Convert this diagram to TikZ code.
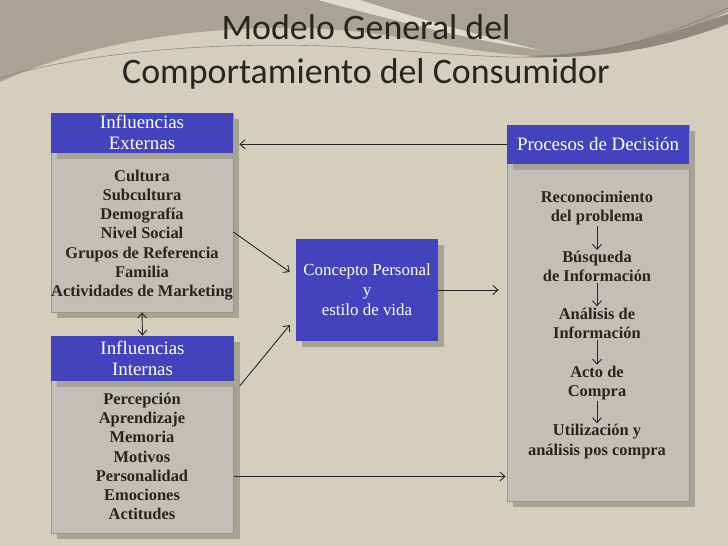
\documentclass[tikz,border=0pt]{standalone}
\usepackage{fontspec}
\setmainfont{Liberation Serif}
\newfontfamily\titulofont{Carlito}
\usetikzlibrary{shadows,arrows.meta}

\definecolor{fondo}{RGB}{212,207,188}
\definecolor{fondoosc}{RGB}{169,163,147}
\definecolor{franja}{RGB}{222,218,204}
\definecolor{azul}{RGB}{67,67,190}
\definecolor{cuerpo}{RGB}{194,191,184}
\definecolor{borde}{RGB}{160,150,115}
\definecolor{sombra}{RGB}{166,162,148}
\definecolor{texto}{RGB}{40,36,30}

\tikzset{
  sombreado/.style={drop shadow={shadow xshift=6bp, shadow yshift=-6bp, fill=sombra, opacity=1}},
  caja/.style={rectangle, draw=borde, fill=cuerpo, line width=0.8bp, minimum width=182bp, sombreado},
  cabecera/.style={rectangle, fill=azul, text=white, minimum width=182bp, align=center, inner sep=0pt,
    font=\fontsize{19}{21}\selectfont, sombreado},
  lista/.style={align=center, inner sep=1bp, text=texto, font=\bfseries\fontsize{16.5}{19.3}\selectfont},
  flecha/.style={-{Straight Barb[length=5bp,width=9bp]}, draw=black!85, line width=0.9bp},
}

\begin{document}
\begin{tikzpicture}[x=1bp,y=-1bp]
        \useasboundingbox (0,0) rectangle (728,546);

        \fill[fondo] (0,0) rectangle (728,546);
        \fill[fondoosc] (0,0) -- (728,0) -- (728,12) .. controls (680,35) and (610,58) .. (540,56)
          .. controls (460,54) and (400,30) .. (300,28) .. controls (190,26) and (80,45) .. (0,82) -- cycle;
        \fill[franja] (318,0) .. controls (400,22) and (470,40) .. (540,50)
          .. controls (480,36) and (410,16) .. (360,0) -- cycle;
        \fill[fondoosc!85!black] (520,56) .. controls (610,56) and (680,30) .. (728,14) -- (728,24)
          .. controls (680,42) and (610,62) .. (520,56) -- cycle;
        \draw[fondoosc!70!black, line width=0.4bp] (0,78) .. controls (100,48) and (250,40) .. (364,48)
          .. controls (450,54) and (520,60) .. (560,56) .. controls (640,48) and (700,20) .. (728,8);

        \node[font=\titulofont\fontsize{36}{44}\selectfont, text=texto, align=center] (titulo) at (366,52)
          {Modelo General del\\Comportamiento del Consumidor};

        \begin{scope}[every node/.style={caja}]
          \node (ext) at (142,212.5) [minimum height=199bp] {};
          \node (int) at (142.5,434.5) [minimum height=197bp] {};
          \node (dec) at (598,313) [minimum height=376bp] {};
        \end{scope}

        \node[cabecera, minimum height=40bp, anchor=north] (exthead) at (ext.north) {Influencias\\Externas};
        \node[cabecera, minimum height=45bp, anchor=north] (inthead) at (int.north) {Influencias\\Internas};
        \node[cabecera, minimum height=39bp, anchor=north] (dechead) at (dec.north) {Procesos de Decisión};
        \node[cabecera, minimum width=142bp, minimum height=102bp, font=\fontsize{17}{20}\selectfont]
          (conc) at (367,290) {Concepto Personal\\y\\estilo de vida};

        \begin{scope}[every node/.style={lista}]
          \node (extlista) at (142,235) {Cultura\\Subcultura\\Demografía\\Nivel Social\\Grupos de Referencia\\Familia\\Actividades de Marketing};
          \node (intlista) at (142,456.5) {Percepción\\Aprendizaje\\Memoria\\Motivos\\Personalidad\\Emociones\\Actitudes};
          \node (paso1) at (597,208) {Reconocimiento\\del problema};
          \node (paso2) at (597,266.5) {Búsqueda\\de Información};
          \node (paso3) at (597,323) {Análisis de\\Información};
          \node (paso4) at (597,383) {Acto de\\Compra};
          \node (paso5) at (597,441.5) {Utilización y\\análisis pos compra};
        \end{scope}

        \begin{scope}[every edge/.style={draw, flecha}]
          \path (paso1) edge (paso2);
          \path (paso2) edge (paso3);
          \path (paso3) edge (paso4);
          \path (paso4) edge (paso5);
          \path (dechead.west) edge[shorten >=6bp] (dechead.west -| ext.east);
          \path ([yshift=-19.5bp]ext.east) edge ([shift={(-6bp,18bp)}]conc.west);
          \path ([shift={(6bp,-5bp)}]inthead.south east) edge ([shift={(-6bp,-35bp)}]conc.west);
          \path (conc.east) edge[shorten >=8bp] (conc.east -| dec.west);
          \path ([yshift=-42bp]int.east) edge[shorten >=1bp] ([yshift=-42bp]int.east -| dec.west);
          \path (ext.south) edge[{Straight Barb[length=5bp,width=9bp]}-{Straight Barb[length=5bp,width=9bp]}] (int.north);
        \end{scope}

      \end{tikzpicture}
\end{document}
